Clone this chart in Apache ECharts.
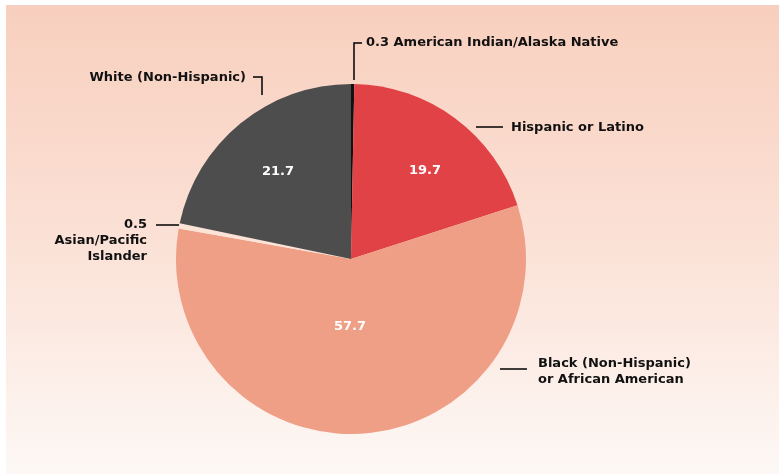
<!DOCTYPE html>
<html>
<head>
<meta charset="utf-8">
<script src="https://cdn.jsdelivr.net/npm/echarts@6/dist/echarts.min.js"></script>
<style>
  html, body { margin: 0; padding: 0; background: #fff; }
  #chart { width: 779px; height: 474px; }
</style>
</head>
<body>
<div id="chart"></div>
<script>
var groups = ["American Indian/Alaska Native", "Hispanic or Latino", "Black (Non-Hispanic)\nor African American", "Asian/Pacific\nIslander", "White (Non-Hispanic)"];
var shares = [0.3, 19.7, 57.7, 0.5, 21.7];
var sliceColors = ["#111111", "#e04246", "#ef9f86", "#fbe3d8", "#4d4d4d"];

var myChart = echarts.init(document.getElementById("chart"));

// where the outside labels sit and how their leader lines bend
var outside = [
  { x: 366, y: 43, align: "left", pts: [[354, 80], [354, 43], [362, 43]] },
  { x: 511, y: 128, align: "left", pts: [[476, 127], [490, 127], [503, 127]] },
  { x: 538, y: 372, align: "left", pts: [[500, 369], [513, 369], [527, 369]] },
  { x: 147, y: 241, align: "right", pts: [[179, 225], [167, 225], [156, 225]] },
  { x: 246, y: 78, align: "right", pts: [[262, 95], [262, 77], [253, 77]] }
];
// spots of the value labels inside the big slices
var inside = [null, [425, 171], [350, 327], null, [278, 172]];

var textFont = {
  fontFamily: "DejaVu Sans",
  fontWeight: "bold",
  fontSize: 13,
  color: "#111"
};

var pieData = groups.map(function (g, i) {
  return { name: g, value: shares[i], itemStyle: { color: sliceColors[i] } };
});

var option = {
  backgroundColor: "#ffffff",
  animation: false,
  graphic: [{
    type: "rect",
    z: -10,
    shape: { x: 6, y: 5, width: 773, height: 469 },
    style: {
      fill: new echarts.graphic.LinearGradient(0, 0, 0, 1, [
        { offset: 0, color: "#f8cfbe" },
        { offset: 0.5, color: "#fbe1d6" },
        { offset: 1, color: "#fdf8f5" }
      ])
    }
  }],
  series: [
    {
      // slices with the value inside
      type: "pie",
      center: [351, 259],
      radius: 175,
      startAngle: 90,
      silent: true,
      data: pieData,
      itemStyle: { borderWidth: 0 },
      label: {
        position: "inside",
        fontFamily: "DejaVu Sans",
        fontWeight: "bold",
        fontSize: 13,
        color: "#fff",
        formatter: function (p) {
          return p.value >= 5 ? p.value.toFixed(1) : "";
        }
      },
      labelLine: { show: false },
      labelLayout: function (params) {
        var c = inside[params.dataIndex];
        if (!c) return {};
        return { x: c[0], y: c[1], align: "center", verticalAlign: "middle" };
      }
    },
    {
      // invisible copy that carries the outside names
      type: "pie",
      center: [351, 259],
      radius: 175,
      startAngle: 90,
      silent: true,
      itemStyle: { color: "transparent", borderWidth: 0 },
      data: groups.map(function (g, i) {
        return { name: g, value: shares[i] };
      }),
      label: Object.assign({
        position: "outside",
        lineHeight: 16,
        formatter: function (p) {
          return p.value < 1 ? p.value.toFixed(1) + (p.dataIndex === 0 ? " " : "\n") + p.name : p.name;
        }
      }, textFont),
      labelLine: {
        show: true,
        lineStyle: { color: "#000", width: 1.5 }
      },
      labelLayout: function (params) {
        var o = outside[params.dataIndex];
        return {
          x: o.x,
          y: o.y,
          align: o.align,
          verticalAlign: "middle",
          labelLinePoints: o.pts
        };
      }
    }
  ]
};

myChart.setOption(option);
</script>
</body>
</html>
